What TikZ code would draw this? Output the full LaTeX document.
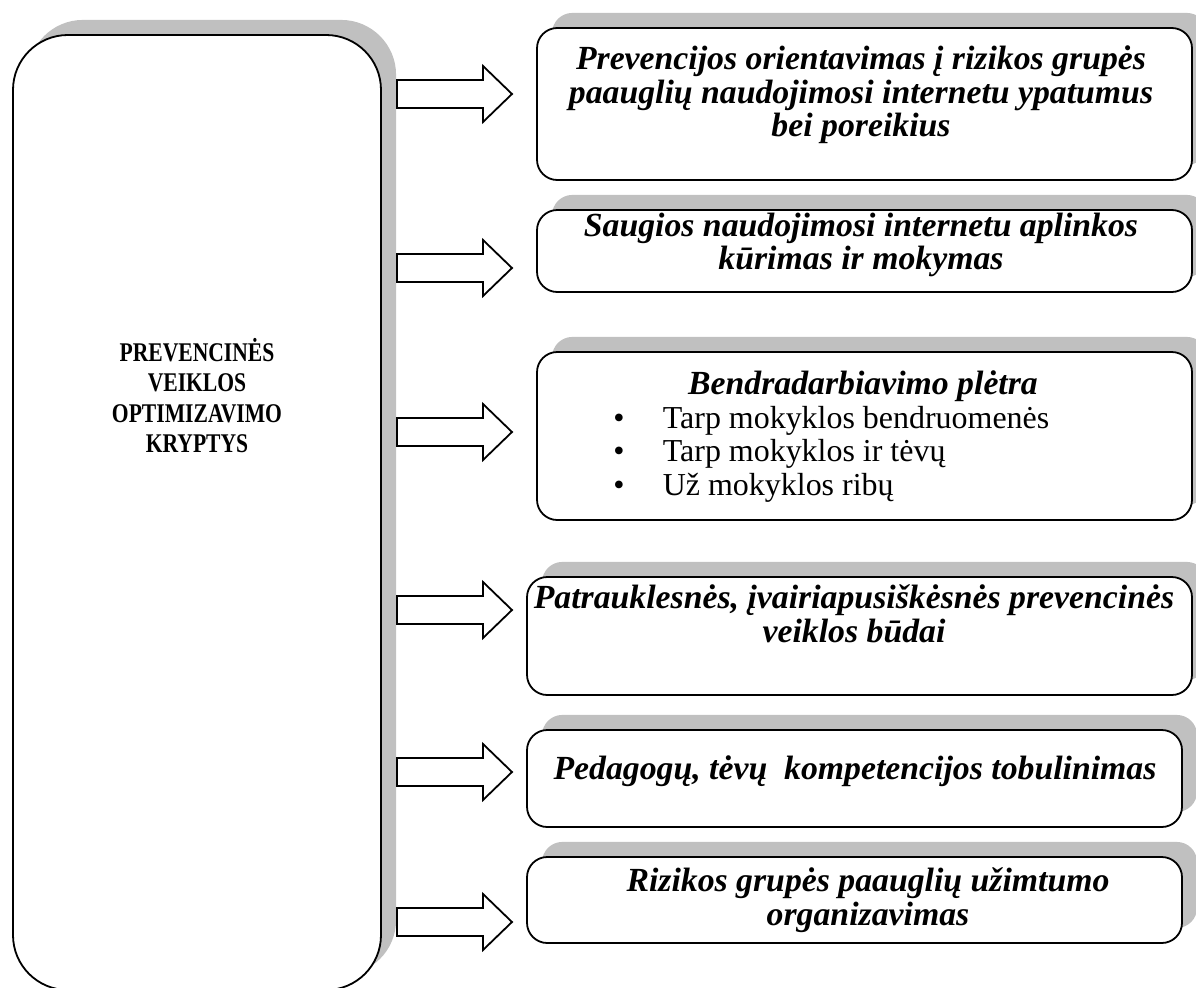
\documentclass[tikz,border=0pt]{standalone}
\usepackage{fontspec}
\setmainfont{Liberation Serif}
\usetikzlibrary{shadows}
\usetikzlibrary{fit}
\definecolor{shadowgray}{RGB}{192,192,192}
\tikzstyle{panel}=[draw,line width=0.8pt,fill=white,inner sep=0pt,rounded corners=9pt,drop shadow={shadow xshift=6.7pt,shadow yshift=6.7pt,fill=shadowgray,opacity=1}]
\tikzstyle{main_panel}=[panel,rounded corners=24.4pt]
\tikzstyle{fat_arrow}=[draw,line width=0.8pt,fill=white,line join=miter]
\tikzstyle{item_text}=[font=\fontsize{15}{14.9}\selectfont\bfseries\itshape,align=center,inner sep=0pt]
\tikzstyle{main_text}=[font=\fontsize{12}{13.4}\selectfont\bfseries,inner sep=0pt]
\tikzstyle{list_text}=[font=\fontsize{14.2}{14.9}\selectfont,inner sep=0pt]

\begin{document}
\begin{tikzpicture}[x=0.44444pt,y=-0.44444pt]  % 1 unit = 1 px of the reference
\useasboundingbox (0,0) rectangle (1196,988);

\node[main_panel,fit={(13,35) (381,990)}] (m) {};
\node[panel,fit={(537,28) (1192,180)}] (b1) {};
\node[panel,fit={(537,210) (1192,292)}] (b2) {};
\node[panel,fit={(537,352) (1192,520)}] (b3) {};
\node[panel,fit={(527,577) (1192,695)}] (b4) {};
\node[panel,fit={(527,730) (1182,827)}] (b5) {};
\node[panel,fit={(527,857) (1182,943)}] (b6) {};

\foreach \y in {94,268,432,610,772,922}
  \draw[fat_arrow] (397,\y-14) -- (483,\y-14) -- (483,\y-28) -- (512,\y)
        -- (483,\y+28) -- (483,\y+14) -- (397,\y+14) -- cycle;

\node[main_text] (lbl) at (197,400) {\scalebox{0.8}[1]{%
  \begin{tabular}{@{}c@{}}PREVENCINĖS\\VEIKLOS\\OPTIMIZAVIMO\\KRYPTYS\end{tabular}}};

\node[item_text] (t1) at (861,95) {Prevencijos orientavimas į rizikos grupės\\paauglių naudojimosi internetu ypatumus\\bei poreikius};
\node[item_text] (t2) at (861,245) {Saugios naudojimosi internetu aplinkos\\kūrimas ir mokymas};
\node[item_text] (t3) at (863,386) {Bendradarbiavimo plėtra};
\node[list_text,anchor=west] (t3list) at (613,455) {%
  \begin{tabular}{@{}l@{\hspace{17pt}}l@{}}
  \textbullet & Tarp mokyklos bendruomenės\\
  \textbullet & Tarp mokyklos ir tėvų\\
  \textbullet & Už mokyklos ribų
  \end{tabular}};
\node[item_text] (t4) at (854,614) {Patrauklesnės, įvairiapusiškėsnės prevencinės\\veiklos būdai};
\node[item_text] (t5) at (855,771) {Pedagogų, tėvų\ \ kompetencijos tobulinimas};
\node[item_text] (t6) at (868,900) {Rizikos grupės paauglių užimtumo\\organizavimas};
\end{tikzpicture}
\end{document}
